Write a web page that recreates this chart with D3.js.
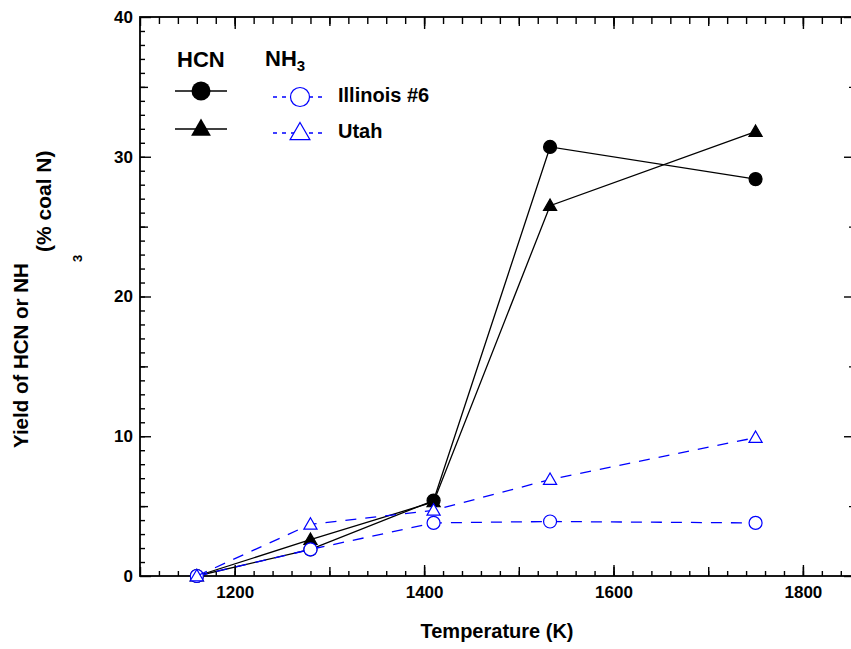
<!DOCTYPE html>
<html>
<head>
<meta charset="utf-8">
<script src="https://cdn.jsdelivr.net/npm/d3@7"></script>
<style>
  html, body { margin: 0; padding: 0; background: #fff; }
  svg { display: block; }
  text { font-family: "Liberation Sans", Arial, Helvetica, sans-serif; font-weight: bold; fill: #000; }
</style>
</head>
<body>
<svg id="chart" width="851" height="649"></svg>
<script>
// Temperatures (K) at which yields were measured
const temperatures = [1160, 1280, 1410, 1533, 1750];
// Yields, % of coal N
const hcnIllinois = [0, 1.9, 5.4, 30.7, 28.4];
const hcnUtah     = [0, 2.6, 5.3, 26.5, 31.8];
const nh3Illinois = [0, 1.9, 3.8, 3.9, 3.8];
const nh3Utah     = [0, 3.7, 4.7, 6.9, 9.9];
// Axis ticks
const xTickLabels = [1200, 1400, 1600, 1800];
const yTickLabels = [0, 10, 20, 30, 40];

const svg = d3.select("#chart");
const plotLeft = 140, plotRight = 855, plotTop = 17, plotBottom = 576;

const x = d3.scaleLinear().domain([1100, 1855]).range([plotLeft, plotRight]);
const y = d3.scaleLinear().domain([0, 40]).range([plotBottom, plotTop]);

const blue = "#0000ff";

// ---- frame with inward ticks ----
function styleAxis(g) {
  g.select(".domain").remove();
  g.selectAll(".tick line").attr("stroke", "#000").attr("stroke-width", 1.4);
  g.selectAll(".tick text").style("font-size", "17px");
}
const xMinor = d3.range(1120, 1855, 20);
const xMid = d3.range(1100, 1855, 100);

// bottom
svg.append("g").attr("transform", `translate(0,${plotBottom})`)
  .call(d3.axisBottom(x).tickValues(xMinor).tickSize(-5).tickFormat("")).call(styleAxis);
svg.append("g").attr("transform", `translate(0,${plotBottom})`)
  .call(d3.axisBottom(x).tickValues(xMid).tickSize(-9).tickFormat("")).call(styleAxis);
svg.append("g").attr("transform", `translate(0,${plotBottom})`)
  .call(d3.axisBottom(x).tickValues(xTickLabels).tickSize(-11).tickPadding(10).tickFormat(d3.format("d"))).call(styleAxis)
  .selectAll(".tick text").attr("y", 10);
// top
svg.append("g").attr("transform", `translate(0,${plotTop})`)
  .call(d3.axisTop(x).tickValues(xMinor).tickSize(-7).tickFormat("")).call(styleAxis);
svg.append("g").attr("transform", `translate(0,${plotTop})`)
  .call(d3.axisTop(x).tickValues(xMid).tickSize(-9).tickFormat("")).call(styleAxis);
svg.append("g").attr("transform", `translate(0,${plotTop})`)
  .call(d3.axisTop(x).tickValues(xTickLabels).tickSize(-12).tickFormat("")).call(styleAxis);
// left
svg.append("g").attr("transform", `translate(${plotLeft},0)`)
  .call(d3.axisLeft(y).tickValues(d3.range(1, 40, 1)).tickSize(-5).tickFormat("")).call(styleAxis);
svg.append("g").attr("transform", `translate(${plotLeft},0)`)
  .call(d3.axisLeft(y).tickValues(d3.range(5, 40, 10)).tickSize(-8).tickFormat("")).call(styleAxis);
svg.append("g").attr("transform", `translate(${plotLeft},0)`)
  .call(d3.axisLeft(y).tickValues(yTickLabels).tickSize(-11).tickPadding(7).tickFormat(d3.format("d"))).call(styleAxis)
  .selectAll(".tick text").attr("x", -7);
// right
svg.append("g").attr("transform", `translate(${plotRight},0)`)
  .call(d3.axisRight(y).tickValues(d3.range(5, 40, 10)).tickSize(-6).tickFormat("")).call(styleAxis);
svg.append("g").attr("transform", `translate(${plotRight},0)`)
  .call(d3.axisRight(y).tickValues(yTickLabels).tickSize(-11).tickFormat("")).call(styleAxis);

svg.append("rect")
  .attr("x", plotLeft).attr("y", plotTop)
  .attr("width", plotRight - plotLeft).attr("height", plotBottom - plotTop)
  .attr("fill", "none").attr("stroke", "#000").attr("stroke-width", 1.8);

// ---- series ----
const triSmall = d3.symbol().type(d3.symbolTriangle).size(75);
const triLarge = d3.symbol().type(d3.symbolTriangle).size(170);

const series = [
  { values: hcnUtah,     color: "#000", dash: null,    marker: "tri",    fill: "#000" },
  { values: hcnIllinois, color: "#000", dash: null,    marker: "circle", fill: "#000" },
  { values: nh3Illinois, color: blue,   dash: "11,9",  marker: "circle", fill: "#fff" },
  { values: nh3Utah,     color: blue,   dash: "11,9",  marker: "tri",    fill: "#fff" }
];

const line = d3.line().x((d, i) => x(temperatures[i])).y(d => y(d));

series.forEach(s => {
  const g = svg.append("g");
  g.append("path").datum(s.values)
    .attr("d", line).attr("fill", "none")
    .attr("stroke", s.color).attr("stroke-width", 1.3)
    .attr("stroke-dasharray", s.dash);
  if (s.marker === "circle") {
    g.selectAll("circle").data(s.values).join("circle")
      .attr("cx", (d, i) => x(temperatures[i])).attr("cy", d => y(d)).attr("r", 6.5)
      .attr("fill", s.fill).attr("stroke", s.color).attr("stroke-width", 1.2);
  } else {
    g.selectAll("path.m").data(s.values).join("path").attr("class", "m")
      .attr("d", triSmall)
      .attr("transform", (d, i) => `translate(${x(temperatures[i])},${y(d) + 1})`)
      .attr("fill", s.fill).attr("stroke", s.color).attr("stroke-width", 1.2);
  }
});

// ---- legend ----
svg.append("text").attr("x", 177).attr("y", 67).style("font-size", "22px").text("HCN");
const nh = svg.append("text").attr("x", 265).attr("y", 66).style("font-size", "22px");
nh.append("tspan").text("NH");
nh.append("tspan").attr("dy", 5).style("font-size", "15px").text("3");

const legendRows = [
  { marker: "circle", hcnY: 91,  nh3Y: 97,  label: "Illinois #6" },
  { marker: "tri",    hcnY: 129, nh3Y: 133, label: "Utah" }
];
legendRows.forEach(r => {
  svg.append("line").attr("x1", 175).attr("x2", 227).attr("y1", r.hcnY).attr("y2", r.hcnY)
    .attr("stroke", "#000").attr("stroke-width", 1.3);
  svg.append("line").attr("x1", 273).attr("x2", 323).attr("y1", r.nh3Y).attr("y2", r.nh3Y)
    .attr("stroke", blue).attr("stroke-width", 1.3).attr("stroke-dasharray", "4,5");
  if (r.marker === "circle") {
    svg.append("circle").attr("cx", 201).attr("cy", r.hcnY).attr("r", 9.5).attr("fill", "#000");
    svg.append("circle").attr("cx", 300).attr("cy", r.nh3Y).attr("r", 9.5)
      .attr("fill", "#fff").attr("stroke", blue).attr("stroke-width", 1.2);
  } else {
    svg.append("path").attr("d", triLarge).attr("transform", `translate(201,${r.hcnY + 1})`).attr("fill", "#000");
    svg.append("path").attr("d", triLarge).attr("transform", `translate(300,${r.nh3Y + 1})`)
      .attr("fill", "#fff").attr("stroke", blue).attr("stroke-width", 1.2);
  }
  svg.append("text").attr("x", 338).attr("y", r.nh3Y + 5).style("font-size", "20px").text(r.label);
});

// ---- axis titles ----
svg.append("text").attr("x", 497).attr("y", 638).attr("text-anchor", "middle")
  .style("font-size", "20px").text("Temperature (K)");

svg.append("text").attr("transform", "translate(28,448) rotate(-90)")
  .style("font-size", "20.5px").text("Yield of HCN or NH");
svg.append("text").attr("transform", "translate(82,262) rotate(-90)")
  .style("font-size", "13px").text("3");
svg.append("text").attr("transform", "translate(51,252) rotate(-90)")
  .style("font-size", "21px").text("(% coal N)");
</script>
</body>
</html>
